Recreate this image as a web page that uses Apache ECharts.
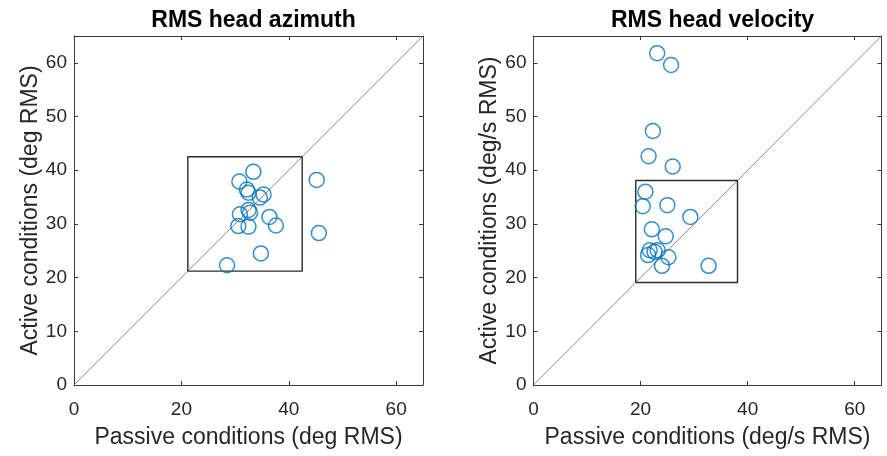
<!DOCTYPE html>
<html>
<head>
<meta charset="utf-8">
<script src="https://cdn.jsdelivr.net/npm/echarts@6/dist/echarts.min.js"></script>
<style>
  html, body { margin: 0; padding: 0; background: #fff; }
  #chart { width: 887px; height: 456px; }
</style>
</head>
<body>
<div id="chart"></div>
<script>
// RMS head azimuth (deg RMS), one point per subject
const azPassive = [33.4, 30.8, 32.2, 32.5, 35.3, 34.6, 45.2, 30.9, 32.5, 32.8, 36.4, 37.6, 30.6, 32.5, 45.6, 34.8, 28.5];
const azActive  = [39.7, 37.9, 36.4, 35.8, 35.5, 34.9, 38.2, 31.8, 32.6, 32.1, 31.3, 29.7, 29.6, 29.5, 28.3, 24.5, 22.3];

// RMS head velocity (deg/s RMS)
const velPassive = [23.1, 25.7, 22.3, 21.5, 26.0, 20.9, 20.4, 25.0, 29.3, 22.1, 24.7, 21.7, 22.6, 23.2, 21.4, 25.2, 24.0, 32.7];
const velActive  = [61.8, 59.6, 47.3, 42.6, 40.7, 36.0, 33.3, 33.5, 31.3, 29.0, 27.7, 25.1, 24.8, 25.1, 24.2, 23.8, 22.2, 22.2];

// Square summary boxes [low, high] on both axes
const azBox  = [21.2, 42.5];
const velBox = [19.1, 38.1];

// Axis extent and tick values
const axisMax = 65;
const xTicks = [0, 20, 40, 60];
const yTicks = [0, 10, 20, 30, 40, 50, 60];

const titles = ['RMS head azimuth', 'RMS head velocity'];
const xNames = ['Passive conditions (deg RMS)', 'Passive conditions (deg/s RMS)'];
const yNames = ['Active conditions (deg RMS)', 'Active conditions (deg/s RMS)'];

const TEXT = '#262626';
const FRAME = '#3a3a3a';
const BLUE = '#0072BD';
const FONT = '"Liberation Sans", Arial, sans-serif';

const grids = [
  { left: 74, top: 36, width: 349, height: 349 },
  { left: 533.5, top: 36, width: 348, height: 349 }
];

function boxPath(b) {
  return [[b[0], b[0]], [b[1], b[0]], [b[1], b[1]], [b[0], b[1]], [b[0], b[0]]];
}

const xAxes = [], yAxes = [];
[0, 1].forEach(function (g) {
  ['bottom', 'top'].forEach(function (pos) {
    xAxes.push({
      gridIndex: g, type: 'value', position: pos, min: 0, max: axisMax,
      name: pos === 'bottom' ? xNames[g] : '',
      nameLocation: 'middle', nameGap: 41,
      nameTextStyle: { color: TEXT, fontSize: 23, fontFamily: FONT },
      axisLine: { show: true, onZero: false, lineStyle: { color: FRAME, width: 1 } },
      axisTick: { show: true, inside: true, length: 4, customValues: xTicks, lineStyle: { color: FRAME } },
      axisLabel: { show: pos === 'bottom', customValues: xTicks, color: TEXT, fontSize: 19, fontFamily: FONT, margin: 15 },
      splitLine: { show: false }
    });
  });
  ['left', 'right'].forEach(function (pos) {
    yAxes.push({
      gridIndex: g, type: 'value', position: pos, min: 0, max: axisMax,
      name: pos === 'left' ? yNames[g] : '',
      nameLocation: 'middle', nameGap: 31, nameRotate: 90,
      nameTextStyle: { color: TEXT, fontSize: 23, fontFamily: FONT },
      axisLine: { show: true, onZero: false, lineStyle: { color: FRAME, width: 1 } },
      axisTick: { show: true, inside: true, length: 4, customValues: yTicks, lineStyle: { color: FRAME } },
      axisLabel: { show: pos === 'left', customValues: yTicks, color: TEXT, fontSize: 19, fontFamily: FONT, margin: 7 },
      splitLine: { show: false }
    });
  });
});

const panels = [
  { passive: azPassive, active: azActive, box: azBox },
  { passive: velPassive, active: velActive, box: velBox }
];

const series = [];
panels.forEach(function (p, g) {
  const xi = g * 2, yi = g * 2;
  // identity line
  series.push({
    type: 'line', xAxisIndex: xi, yAxisIndex: yi, data: [[0, 0], [axisMax, axisMax]],
    symbol: 'none', silent: true, z: 1,
    lineStyle: { color: '#6e6e6e', width: 0.8 }
  });
  // summary box
  series.push({
    type: 'line', xAxisIndex: xi, yAxisIndex: yi, data: boxPath(p.box),
    symbol: 'none', silent: true, z: 2,
    lineStyle: { color: '#2b2b2b', width: 1.4 }
  });
  // subjects
  series.push({
    type: 'scatter', xAxisIndex: xi, yAxisIndex: yi,
    data: p.passive.map(function (v, i) { return [v, p.active[i]]; }),
    symbol: 'circle', symbolSize: 15, z: 3,
    itemStyle: { color: 'rgba(0,0,0,0)', borderColor: BLUE, borderWidth: 1.5 }
  });
});

const chart = echarts.init(document.getElementById('chart'), null, { renderer: 'canvas' });
chart.setOption({
  animation: false,
  backgroundColor: '#ffffff',
  title: titles.map(function (t, g) {
    return {
      text: t, left: grids[g].left + grids[g].width / 2, top: 4, textAlign: 'center',
      textStyle: { color: '#000', fontSize: 23, fontWeight: 'bold', fontFamily: FONT }
    };
  }),
  grid: grids,
  xAxis: xAxes,
  yAxis: yAxes,
  series: series
});
</script>
</body>
</html>
